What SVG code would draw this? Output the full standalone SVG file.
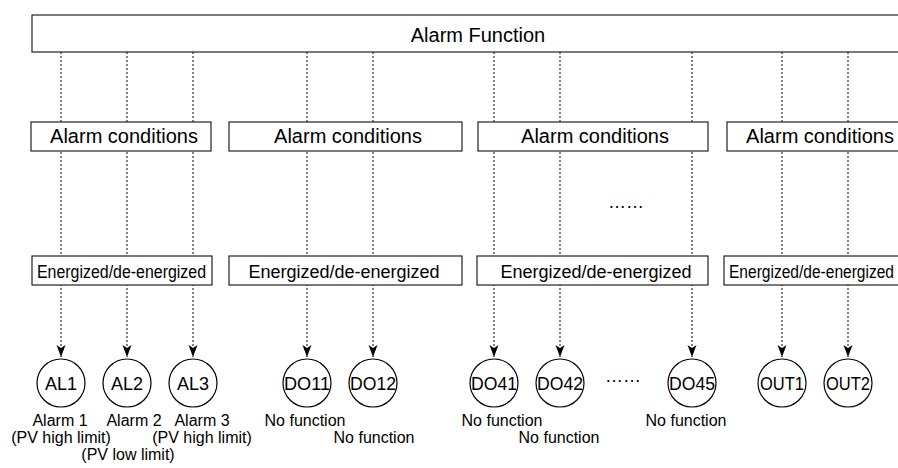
<svg xmlns="http://www.w3.org/2000/svg" width="898" height="468" viewBox="0 0 898 468">
<style>
text{font-family:"Liberation Sans",Arial,sans-serif;fill:#000;text-anchor:middle}
.box{fill:#fff;stroke:#222;stroke-width:1.2}
.circ{fill:#fff;stroke:#000;stroke-width:1.2}
.t20{font-size:20px}
.t18{font-size:18px}
.t16{font-size:16px}
.dash{stroke:#000;stroke-width:1;stroke-dasharray:2,2;fill:none}
</style>
<defs>
<marker id="arr" viewBox="0 0 12 10" refX="12" refY="5" markerWidth="12" markerHeight="10" markerUnits="userSpaceOnUse" orient="auto">
<path d="M0,0.5 L12,5 L0,9.5 L3,5 z" fill="#000" stroke="none"/>
</marker>
</defs>
<rect width="898" height="468" fill="#fff"/>
<g id="connectors">
<line class="dash" x1="61" y1="52" x2="61" y2="357" marker-end="url(#arr)"/>
<line class="dash" x1="127" y1="52" x2="127" y2="357" marker-end="url(#arr)"/>
<line class="dash" x1="193" y1="52" x2="193" y2="357" marker-end="url(#arr)"/>
<line class="dash" x1="307" y1="52" x2="307" y2="357" marker-end="url(#arr)"/>
<line class="dash" x1="373" y1="52" x2="373" y2="357" marker-end="url(#arr)"/>
<line class="dash" x1="494" y1="52" x2="494" y2="357" marker-end="url(#arr)"/>
<line class="dash" x1="560" y1="52" x2="560" y2="357" marker-end="url(#arr)"/>
<line class="dash" x1="692" y1="52" x2="692" y2="357" marker-end="url(#arr)"/>
<line class="dash" x1="782" y1="52" x2="782" y2="357" marker-end="url(#arr)"/>
<line class="dash" x1="848" y1="52" x2="848" y2="357" marker-end="url(#arr)"/>
</g>
<g id="alarm-function">
<rect class="box" x="32" y="15" width="880" height="37"/>
<text class="t20" x="478" y="42">Alarm Function</text>
</g>
<g id="cond1"><rect class="box" x="31" y="122" width="180" height="29"/><text class="t20" x="124" y="143">Alarm conditions</text></g>
<g id="cond2"><rect class="box" x="229" y="122" width="233" height="29"/><text class="t20" x="348" y="143">Alarm conditions</text></g>
<g id="cond3"><rect class="box" x="478" y="122" width="230" height="29"/><text class="t20" x="595" y="143">Alarm conditions</text></g>
<g id="cond4"><rect class="box" x="727" y="122" width="190" height="29"/><text class="t20" x="820" y="143">Alarm conditions</text></g>
<g id="ener1"><rect class="box" x="32" y="256" width="180" height="29"/><text class="t18" x="121.5" y="278" textLength="169" lengthAdjust="spacingAndGlyphs">Energized/de-energized</text></g>
<g id="ener2"><rect class="box" x="229" y="256" width="233" height="29"/><text class="t18" x="344" y="278">Energized/de-energized</text></g>
<g id="ener3"><rect class="box" x="477" y="256" width="231" height="29"/><text class="t18" x="596" y="278">Energized/de-energized</text></g>
<g id="ener4"><rect class="box" x="724" y="256" width="190" height="29"/><text class="t18" x="811.5" y="278" textLength="165" lengthAdjust="spacingAndGlyphs">Energized/de-energized</text></g>
<text class="t18" x="626" y="208">……</text>
<g id="AL1"><circle class="circ" cx="61" cy="383" r="24"/><text class="t18" x="61" y="389.5">AL1</text></g>
<g id="AL2"><circle class="circ" cx="127" cy="383" r="24"/><text class="t18" x="127" y="389.5">AL2</text></g>
<g id="AL3"><circle class="circ" cx="193" cy="383" r="24"/><text class="t18" x="193" y="389.5">AL3</text></g>
<g id="DO11"><circle class="circ" cx="307" cy="383" r="24"/><text class="t18" x="307" y="389.5" textLength="46" lengthAdjust="spacingAndGlyphs">DO11</text></g>
<g id="DO12"><circle class="circ" cx="373" cy="383" r="24"/><text class="t18" x="373" y="389.5" textLength="46" lengthAdjust="spacingAndGlyphs">DO12</text></g>
<g id="DO41"><circle class="circ" cx="494" cy="383" r="24"/><text class="t18" x="494" y="389.5" textLength="46" lengthAdjust="spacingAndGlyphs">DO41</text></g>
<g id="DO42"><circle class="circ" cx="560" cy="383" r="24"/><text class="t18" x="560" y="389.5" textLength="46" lengthAdjust="spacingAndGlyphs">DO42</text></g>
<text class="t18" x="623" y="382">……</text>
<g id="DO45"><circle class="circ" cx="692" cy="383" r="24"/><text class="t18" x="692" y="389.5" textLength="46" lengthAdjust="spacingAndGlyphs">DO45</text></g>
<g id="OUT1"><circle class="circ" cx="782" cy="383" r="24"/><text class="t18" x="782" y="389.5" textLength="44" lengthAdjust="spacingAndGlyphs">OUT1</text></g>
<g id="OUT2"><circle class="circ" cx="848" cy="383" r="24"/><text class="t18" x="848" y="389.5" textLength="44" lengthAdjust="spacingAndGlyphs">OUT2</text></g>
<g id="labels">
<text class="t16" x="60" y="426">Alarm 1</text>
<text class="t16" x="61" y="443">(PV high limit)</text>
<text class="t16" x="134" y="426">Alarm 2</text>
<text class="t16" x="128" y="460">(PV low limit)</text>
<text class="t16" x="202" y="426">Alarm 3</text>
<text class="t16" x="202" y="443">(PV high limit)</text>
<text class="t16" x="305" y="426">No function</text>
<text class="t16" x="374" y="443">No function</text>
<text class="t16" x="502" y="426">No function</text>
<text class="t16" x="559" y="443">No function</text>
<text class="t16" x="686" y="426">No function</text>
</g>
</svg>
